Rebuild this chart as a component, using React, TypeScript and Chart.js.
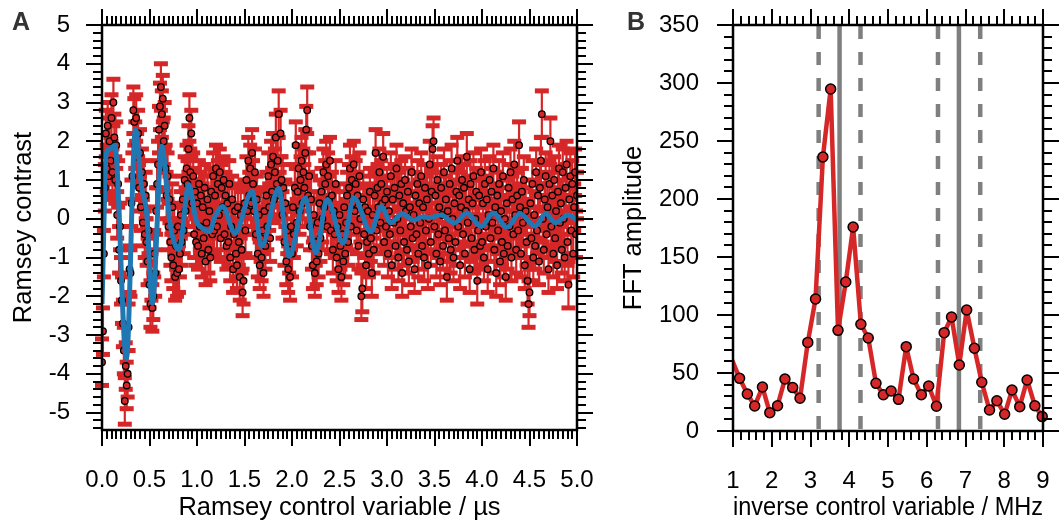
import React, { useEffect, useRef } from 'react';
import { Chart, registerables } from 'chart.js';
Chart.register(...registerables);

const FONT = "'Liberation Sans', Arial, Helvetica, sans-serif";
const RED = '#d62728';
const BLUE = '#1f77b4';
const GRAY = '#7f7f7f';

// ---------- Panel A : Ramsey signal ----------
const RAMSEY_DT = 0.01; // µs between samples
const RAMSEY_ERR = 0.6; // error bar half-length
const RAMSEY_Y = [
  -3.7, -2.9, -0.9, 0.8, 2.2, 1.3, 2.4, 1.1, 2.0, 1.5,
  2.6, 1.2, 3.0, 2.1, 1.0, 1.9, 0.1, 0.9, -0.8, -0.2,
  -1.6, -2.1, -2.7, -3.4, -4.7, -3.8, -4.3, -4.0, -2.8, -1.3,
  -1.4, 0.4, 1.1, 2.8, 2.5, 1.9, 2.6, 1.6, 2.2, 0.8,
  1.7, 0.3, 1.2, -0.1, 0.9, -0.4, 0.6, -0.6, -1.1, -0.3,
  -1.7, -2.2, -1.5, -2.3, -2.0, -0.9, -1.4, 0.2, 0.9, 1.4,
  2.3, 2.9, 3.4, 2.7, 3.1, 2.0, 2.4, 1.3, 0.6, 1.1,
  -0.2, 0.5, -0.6, -1.0, 0.3, -1.2, -0.3, -1.5, -0.7, -1.4,
  -0.2, -1.3, -0.9, 0.1, -0.6, 0.5, -0.3, 1.0, 0.2, 1.3,
  0.9, 1.8, 2.6, 1.2, 2.2, 0.4, 1.1, -0.4, 0.7, -0.6,
  0.4, -0.7, 0.9, -0.2, 0.6, -0.9, 0.3, -0.5, 0.8, -1.1,
  -0.1, 0.5, -0.8, 0.2, -1.0, 0.7, -0.4, 1.1, -0.3, 0.6,
  1.3, -0.2, 0.9, 0.1, 1.2, -0.5, 0.8, 0.3, 1.0, -0.4,
  0.6, -0.7, 0.4, -0.6, 0.9, -1.0, -0.2, 0.5, -1.3, -0.4,
  0.2, -0.9, -1.2, 0.3, -0.6, -1.5, 0.1, -0.8, -1.9, -1.6,
  0.4, -0.3, 1.0, 0.2, 1.5, 0.6, 1.3, 0.4, 1.7, 0.9,
  0.2, 1.2, -0.4, 0.5, -0.9, 0.1, -1.2, -0.5, -1.0, -0.3,
  -1.4, 0.2, -0.7, 0.6, -0.2, 1.1, 0.3, -0.5, 1.4, 0.7,
  1.6, 0.5, 1.2, 2.1, 0.9, 1.5, 2.7, 0.6, 2.2, 1.0,
  0.1, 0.8, -0.6, 0.4, -1.1, -0.3, -1.3, -0.8, -1.5, -0.2,
  -0.9, 0.3, -0.4, 0.8, 1.9, -0.1, 0.7, 1.3, 0.2, 1.0,
  1.5, 0.4, 1.2, 0.8, 1.7, 2.3, 2.8, 0.6, 1.1, -0.2,
  0.5, -0.7, -1.2, 0.1, -1.4, -0.6, -1.1, -0.1, -0.9, 0.4,
  -0.5, 0.7, 0.0, 1.2, 0.3, 0.9, 1.4, -0.2, 1.1, 0.5,
  1.5, -0.3, 0.6, -0.8, 0.2, -0.4, 0.9, -1.0, -0.2, -1.3,
  0.1, -0.7, -1.5, -0.4, -1.1, 0.3, -0.9, -0.1, 0.6, -0.6,
  0.8, 1.3, -0.2, 1.0, 0.4, 1.4, 0.2, 0.9, -0.3, 0.6,
  -0.7, 1.1, 0.0, -2.0, -1.8, 0.5, -0.4, 0.3, -1.2, -0.6,
  0.2, -0.9, 0.7, -0.5, -1.4, 0.1, -0.8, 0.6, 1.7, -0.3,
  0.8, 0.3, 1.2, -0.1, 0.9, 0.4, 1.6, -0.6, 0.5, -0.2,
  0.7, -0.9, 0.2, -0.4, 1.1, -1.2, 0.5, -0.1, 0.8, -0.7,
  1.3, 0.0, -1.0, 0.6, -0.3, 0.9, -1.4, 0.4, -0.6, 1.0,
  0.2, -0.8, 0.7, -1.1, 0.3, -0.2, 1.2, -0.5, 0.1, -1.3,
  0.6, -0.4, 0.9, -0.9, 0.4, -0.1, 1.1, -0.7, 0.3, -1.0,
  0.8, -0.3, 0.5, -1.2, 0.0, 1.4, -0.6, 0.7, 1.8, 2.0,
  -0.2, 0.6, -0.9, 1.0, -0.4, 0.3, -1.1, 0.8, 0.1, -0.7,
  1.2, -0.3, 0.5, -1.5, 0.2, -0.5, 0.9, -0.8, 1.3, 0.0,
  -1.0, 0.4, -0.6, 0.7, 1.5, -0.2, 0.6, -1.2, 0.3, 1.0,
  -0.4, 0.8, -0.9, 0.2, 1.6, -0.1, 0.5, -1.3, 0.9, -0.5,
  0.4, 1.1, -0.8, 0.0, 0.7, -1.6, -0.3, 0.6, -0.7, 1.2,
  -0.6, 0.4, -1.0, 0.9, -0.2, 0.5, -1.3, 0.1, 1.0, -0.5,
  0.7, -0.1, 1.3, -0.8, 0.3, -1.4, 0.6, -0.3, 0.9, -1.1,
  0.2, -0.6, 1.1, -0.9, 0.0, -1.5, 0.4, -0.7, 0.8, -0.2,
  1.2, -1.0, 0.5, -0.4, 1.4, 0.1, -0.8, 0.6, -0.3, 1.9,
  0.3, -0.9, 0.7, -0.1, 1.0, -1.2, 0.2, -0.6, -1.6, -2.2,
  -1.9, 0.4, -0.5, 0.9, -1.0, 0.1, -0.7, 1.2, -0.3, 0.6,
  -1.1, 0.8, 1.5, 2.7, 0.0, -0.8, 0.5, 1.1, -0.4, 0.3,
  -1.3, 0.9, 2.0, -0.2, 0.6, -0.9, 1.0, -0.5, 0.2, -1.2,
  0.7, 1.3, -0.1, 0.4, -0.8, 1.2, 0.0, -1.0, 0.8, 1.4,
  -0.6, -1.7, 0.5, 1.1, -0.3, 0.9, -0.9, 0.3, 1.2, -0.4,
  0.6,
];

// fitted curve (blue)
const FIT_T = [
  0.0, 0.046, 0.09, 0.134, 0.257, 0.352, 0.416, 0.47, 0.53, 0.63,
  0.715, 0.81, 0.915, 0.99, 1.06, 1.13, 1.19, 1.27, 1.4, 1.58,
  1.68, 1.86, 1.97, 2.14, 2.25, 2.37, 2.54, 2.65, 2.83, 2.94,
  3.04, 3.16, 3.28, 3.38, 3.45, 3.57, 3.71, 3.84, 3.99, 4.12,
  4.26, 4.4, 4.56, 4.67, 4.77, 4.91, 5.0,
];
const FIT_V = [
  -2.2, 1.7, 1.8, 1.9, -3.6, 2.3, 0.83, 0.15, -2.18, 1.87,
  -0.1, -0.8, 0.88, -0.03, -0.25, -0.33, 0.06, 0.32, -0.37, 0.71,
  -0.71, 0.79, -0.97, 0.54, -0.88, 0.5, -0.63, 0.54, -0.33, 0.32,
  -0.1, 0.13, -0.03, 0.05, 0.03, 0.1, -0.11, 0.15, -0.2, 0.15,
  -0.22, 0.13, -0.19, 0.13, -0.1, 0.1, -0.04,
];

// ---------- Panel B : FFT ----------
const FFT_F = [
  0.98, 1.17, 1.37, 1.56, 1.76, 1.95, 2.15, 2.34, 2.54, 2.73,
  2.93, 3.13, 3.32, 3.52, 3.71, 3.91, 4.1, 4.3, 4.49, 4.69,
  4.88, 5.08, 5.27, 5.47, 5.66, 5.86, 6.05, 6.25, 6.45, 6.64,
  6.84, 7.03, 7.23, 7.42, 7.62, 7.81, 8.01, 8.2, 8.4, 8.59,
  8.79, 8.98,
];
const FFT_A = [
  61, 45.4, 31.9, 21.6, 37.9, 15.8, 21.8, 44.8, 37.4, 28.2,
  76.4, 113.8, 236.2, 294.8, 86.8, 128.4, 175.9, 92.0, 80.2, 41.1,
  31.3, 34.5, 27.3, 72.7, 44.8, 31.3, 38.8, 21.3, 84.8, 98.3,
  56.9, 104.3, 71.3, 42.0, 18.1, 26.1, 14.4, 35.3, 21.0, 44.0,
  21.8, 12.4,
];
const MARK_SOLID = [3.75, 6.83];
const MARK_DASHED = [3.21, 4.29, 6.29, 7.38];

type AxisSpec = { xMajor: number; xMinor: number; yMajor: number; yMinor: number };

function framePlugin(spec: AxisSpec) {
  return {
    id: 'frameTicks',
    afterDraw(chart: any) {
      const { ctx, chartArea: a, scales } = chart;
      const xs = scales.x;
      const ys = scales.y;
      const isMajor = (v: number, m: number) => Math.abs(v / m - Math.round(v / m)) < 1e-6;
      ctx.save();
      ctx.strokeStyle = '#000';
      ctx.lineWidth = 2;
      ctx.beginPath();
      for (let k = Math.ceil(xs.min / spec.xMinor - 1e-6); k * spec.xMinor <= xs.max + 1e-6; k++) {
        const v = k * spec.xMinor;
        const len = isMajor(v, spec.xMajor) ? 16 : 9;
        const px = Math.round(xs.getPixelForValue(v));
        ctx.moveTo(px, a.bottom);
        ctx.lineTo(px, a.bottom + len);
        ctx.moveTo(px, a.top);
        ctx.lineTo(px, a.top - len);
      }
      for (let k = Math.ceil(ys.min / spec.yMinor - 1e-6); k * spec.yMinor <= ys.max + 1e-6; k++) {
        const v = k * spec.yMinor;
        const len = isMajor(v, spec.yMajor) ? 16 : 9;
        const py = Math.round(ys.getPixelForValue(v));
        ctx.moveTo(a.left, py);
        ctx.lineTo(a.left - len, py);
        ctx.moveTo(a.right, py);
        ctx.lineTo(a.right + len, py);
      }
      ctx.stroke();
      ctx.lineWidth = 2.5;
      ctx.strokeRect(a.left, a.top, a.right - a.left, a.bottom - a.top);
      ctx.restore();
    },
  };
}

const errorBarPlugin = {
  id: 'errorBars',
  beforeDatasetsDraw(chart: any) {
    const { ctx, scales } = chart;
    const xs = scales.x;
    const ys = scales.y;
    ctx.save();
    ctx.strokeStyle = RED;
    ctx.fillStyle = RED;
    ctx.lineWidth = 2.2;
    RAMSEY_Y.forEach((v, i) => {
      const px = xs.getPixelForValue(i * RAMSEY_DT);
      const yt = ys.getPixelForValue(v + RAMSEY_ERR);
      const yb = ys.getPixelForValue(v - RAMSEY_ERR);
      ctx.beginPath();
      ctx.moveTo(px, yt);
      ctx.lineTo(px, yb);
      ctx.stroke();
      ctx.fillRect(px - 7, yt - 2.5, 14, 5);
      ctx.fillRect(px - 7, yb - 2.5, 14, 5);
    });
    ctx.restore();
  },
};

const markerLinesPlugin = {
  id: 'markerLines',
  beforeDatasetsDraw(chart: any) {
    const { ctx, chartArea: a, scales } = chart;
    const xs = scales.x;
    ctx.save();
    ctx.strokeStyle = GRAY;
    ctx.lineWidth = 4.5;
    ctx.setLineDash([]);
    MARK_SOLID.forEach((f) => {
      const px = xs.getPixelForValue(f);
      ctx.beginPath();
      ctx.moveTo(px, a.top);
      ctx.lineTo(px, a.bottom);
      ctx.stroke();
    });
    ctx.setLineDash([13, 13]);
    MARK_DASHED.forEach((f) => {
      const px = xs.getPixelForValue(f);
      ctx.beginPath();
      ctx.moveTo(px, a.top + 1);
      ctx.lineTo(px, a.bottom);
      ctx.stroke();
    });
    ctx.restore();
  },
};

const tickFont = { family: FONT, size: 24 };
const titleFont = { family: FONT, size: 25.5 };

const zeroPad = (s: any) => {
  s.paddingTop = 0;
  s.paddingBottom = 0;
  s.paddingLeft = 0;
  s.paddingRight = 0;
};

type Area = { top: number; bottom: number; right: number };

function fitArea(chart: any, target: Area) {
  for (let i = 0; i < 5; i++) {
    const a = chart.chartArea;
    const p = chart.config.options.layout.padding;
    const dTop = target.top - a.top;
    const dBottom = a.bottom - target.bottom;
    const dRight = a.right - target.right;
    if (Math.abs(dTop) < 0.25 && Math.abs(dBottom) < 0.25 && Math.abs(dRight) < 0.25) break;
    chart.config.options.layout.padding = {
      left: p.left,
      top: p.top + dTop,
      bottom: p.bottom + dBottom,
      right: p.right + dRight,
    };
    chart.update('none');
  }
}

export default function App() {
  const refA = useRef<HTMLCanvasElement>(null);
  const refB = useRef<HTMLCanvasElement>(null);

  useEffect(() => {
    const chartA = new Chart(refA.current as HTMLCanvasElement, {
      type: 'line',
      data: {
        datasets: [
          {
            label: 'fit',
            data: FIT_T.map((t, i) => ({ x: t, y: FIT_V[i] })),
            borderColor: BLUE,
            borderWidth: 5,
            pointRadius: 0,
            cubicInterpolationMode: 'monotone',
            borderJoinStyle: 'round',
            fill: false,
          },
          {
            label: 'data',
            data: RAMSEY_Y.map((y, i) => ({ x: i * RAMSEY_DT, y })),
            showLine: false,
            pointRadius: 3.3,
            pointBackgroundColor: RED,
            pointBorderColor: '#000',
            pointBorderWidth: 1.3,
          },
        ],
      } as any,
      options: {
        animation: false,
        responsive: false,
        devicePixelRatio: 1,
        layout: { padding: { top: 25, right: 23, left: 0, bottom: 0 } },
        plugins: { legend: { display: false }, tooltip: { enabled: false } },
        scales: {
          x: {
            type: 'linear',
            min: 0,
            max: 5,
            grid: { display: false },
            border: { display: false },
            ticks: {
              stepSize: 0.5,
              autoSkip: false,
              maxRotation: 0,
              includeBounds: false,
              padding: 28,
              color: '#000',
              font: tickFont,
              callback: (v: any) => Number(v).toFixed(1),
            },
            title: {
              display: true,
              text: 'Ramsey control variable / µs',
              color: '#000',
              font: titleFont,
              padding: { top: 0, bottom: 4 },
            },
            afterFit: (s: any) => {
              s.height = 97;
              zeroPad(s);
            },
          },
          y: {
            type: 'linear',
            min: -5.45,
            max: 5,
            grid: { display: false },
            border: { display: false },
            ticks: {
              stepSize: 1,
              autoSkip: false,
              includeBounds: false,
              padding: 24,
              color: '#000',
              font: tickFont,
              callback: (v: any) => String(v),
            },
            title: {
              display: true,
              text: 'Ramsey contrast',
              color: '#000',
              font: titleFont,
              padding: { top: 9, bottom: 0 },
            },
            afterFit: (s: any) => {
              s.width = 102;
              zeroPad(s);
            },
          },
        },
      } as any,
      plugins: [errorBarPlugin, framePlugin({ xMajor: 0.5, xMinor: 0.05, yMajor: 1, yMinor: 0.2 })],
    });
    fitArea(chartA, { top: 25, bottom: 430, right: 577 });

    const chartB = new Chart(refB.current as HTMLCanvasElement, {
      type: 'line',
      data: {
        datasets: [
          {
            label: 'FFT',
            data: FFT_F.map((f, i) => ({ x: f, y: FFT_A[i] })),
            borderColor: RED,
            borderWidth: 4.5,
            borderJoinStyle: 'round',
            pointRadius: (c: any) => (c.dataIndex === 0 ? 0 : 5),
            pointBackgroundColor: RED,
            pointBorderColor: '#000',
            pointBorderWidth: 1.5,
            fill: false,
            clip: { left: 0, right: 10, top: 10, bottom: 10 },
          },
        ],
      } as any,
      options: {
        animation: false,
        responsive: false,
        devicePixelRatio: 1,
        layout: { padding: { top: 25, right: 20, left: 0, bottom: 0 } },
        plugins: { legend: { display: false }, tooltip: { enabled: false } },
        scales: {
          x: {
            type: 'linear',
            min: 1,
            max: 9,
            grid: { display: false },
            border: { display: false },
            ticks: {
              stepSize: 1,
              autoSkip: false,
              maxRotation: 0,
              padding: 28,
              color: '#000',
              font: tickFont,
              callback: (v: any) => String(v),
            },
            title: {
              display: true,
              text: 'inverse control variable / MHz',
              color: '#000',
              font: titleFont,
              padding: { top: 0, bottom: 4 },
            },
            afterFit: (s: any) => {
              s.height = 96;
              zeroPad(s);
            },
          },
          y: {
            type: 'linear',
            min: 0,
            max: 350,
            grid: { display: false },
            border: { display: false },
            ticks: {
              stepSize: 50,
              autoSkip: false,
              padding: 26,
              color: '#000',
              font: tickFont,
              callback: (v: any) => String(v),
            },
            title: {
              display: true,
              text: 'FFT amplitude',
              color: '#000',
              font: titleFont,
              padding: { top: 19, bottom: 0 },
            },
            afterFit: (s: any) => {
              s.width = 133;
              zeroPad(s);
            },
          },
        },
      } as any,
      plugins: [markerLinesPlugin, framePlugin({ xMajor: 1, xMinor: 0.2, yMajor: 50, yMinor: 10 })],
    });
    fitArea(chartB, { top: 25, bottom: 431, right: 443 });

    return () => {
      chartA.destroy();
      chartB.destroy();
    };
  }, []);

  const letter: React.CSSProperties = {
    position: 'absolute',
    top: 9,
    font: `bold 25px ${FONT}`,
    lineHeight: 1,
    color: '#333',
  };

  return (
    <div
      style={{
        position: 'fixed',
        left: 0,
        top: 0,
        width: 1063,
        height: 527,
        background: '#fff',
        overflow: 'hidden',
      }}
    >
      <canvas ref={refA} width={600} height={527} style={{ position: 'absolute', left: 0, top: 0 }} />
      <canvas ref={refB} width={463} height={527} style={{ position: 'absolute', left: 600, top: 0 }} />
      <div style={{ ...letter, left: 12 }}>A</div>
      <div style={{ ...letter, left: 627 }}>B</div>
    </div>
  );
}
